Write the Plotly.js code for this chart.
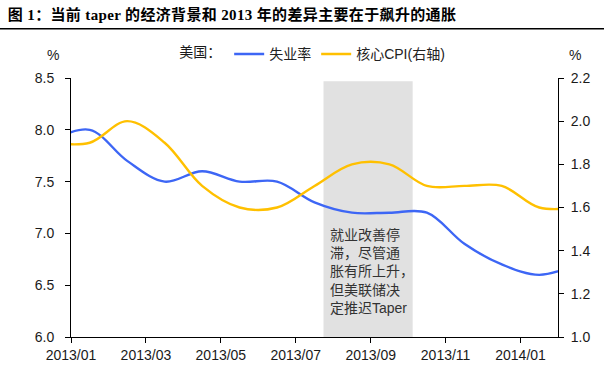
<!DOCTYPE html>
<html>
<head>
<meta charset="utf-8">
<script src="https://cdn.plot.ly/plotly-3.0.1.min.js"></script>
<style>
html,body{margin:0;padding:0;background:#fff;}
#chart{width:604px;height:367px;}
#chart .gtitle{letter-spacing:0.35px;}
</style>
</head>
<body>
<div id="chart"></div>
<script>
// Monthly data (points plotted mid-month; axis clipped to 2013/01 – 2014/02)
const months = ['2012/12','2013/01','2013/02','2013/03','2013/04','2013/05','2013/06','2013/07','2013/08','2013/09','2013/10','2013/11','2013/12','2014/01','2014/02'];
const unemployment = [7.9, 8.0, 7.7, 7.5, 7.6, 7.5, 7.5, 7.3, 7.2, 7.2, 7.2, 6.9, 6.7, 6.6, 6.7];
const coreCPI = [1.9, 1.9, 2.0, 1.9, 1.7, 1.6, 1.6, 1.7, 1.8, 1.8, 1.7, 1.7, 1.7, 1.6, 1.6];
const tickLabels = ['2013/01','2013/03','2013/05','2013/07','2013/09','2013/11','2014/01'];
const seriesNames = ['失业率', '核心CPI(右轴)'];

const xPos = months.map((m, i) => i - 0.5);          // mid-month position
const tickVals = tickLabels.map(l => months.indexOf(l) - 1); // month start

const latin = 'Liberation Sans, Arial, Noto Sans CJK SC, sans-serif';
const txt = '#1a1a1a';

const traces = [
  {x: xPos, y: unemployment, name: seriesNames[0], type: 'scatter', mode: 'lines',
   line: {color: '#3d66f5', width: 2.4, shape: 'spline', smoothing: 1}, yaxis: 'y'},
  {x: xPos, y: coreCPI, name: seriesNames[1], type: 'scatter', mode: 'lines',
   line: {color: '#ffc000', width: 2.4, shape: 'spline', smoothing: 1}, yaxis: 'y2'}
];

const layout = {
  width: 604, height: 367,
  margin: {l: 71, r: 46, t: 78, b: 30},
  paper_bgcolor: '#fff', plot_bgcolor: 'rgba(0,0,0,0)',
  font: {family: latin, size: 14, color: txt},
  showlegend: true,
  title: {
    text: '<b>图 1：当前 taper 的经济背景和 2013 年的差异主要在于飙升的通胀</b>',
    font: {family: 'Liberation Serif, Times New Roman, Noto Sans CJK SC, serif', size: 15, color: '#000'},
    x: 0.013, xanchor: 'left', y: 0.959, yanchor: 'middle'
  },
  legend: {
    orientation: 'h', x: 0.218, xanchor: 'left', y: 1.091, yanchor: 'middle',
    title: {text: '美国：', side: 'left', font: {size: 14, color: txt}},
    font: {size: 14, color: '#222'}, bgcolor: 'rgba(0,0,0,0)', itemwidth: 30,
    tracegroupgap: 0
  },
  xaxis: {
    range: [0, 13], tickmode: 'array', tickvals: tickVals, ticktext: tickLabels,
    showgrid: false, zeroline: false, showline: true, linecolor: '#000', linewidth: 1,
    ticks: 'outside', ticklen: 5, tickcolor: '#000', tickfont: {size: 14, color: txt}
  },
  yaxis: {
    range: [6.0, 8.5], dtick: 0.5, tick0: 6.0, tickformat: '.1f',
    showgrid: false, zeroline: false, showline: true, linecolor: '#000', linewidth: 1,
    ticks: 'outside', ticklen: 5, tickcolor: '#000', tickfont: {size: 14, color: txt},
    ticklabelstandoff: 8
  },
  yaxis2: {
    range: [1.0, 2.2], dtick: 0.2, tick0: 1.0, tickformat: '.1f',
    overlaying: 'y', side: 'right',
    showgrid: false, zeroline: false, showline: true, linecolor: '#000', linewidth: 1,
    ticks: 'outside', ticklen: 5, tickcolor: '#000', tickfont: {size: 14, color: txt},
    ticklabelstandoff: 4
  },
  shapes: [
    {type: 'rect', xref: 'x', yref: 'paper', x0: 6.74, x1: 9.12, y0: 0, y1: 0.987,
     fillcolor: '#e1e1e1', line: {width: 0}, layer: 'below'},
    {type: 'line', xref: 'paper', yref: 'paper', x0: -0.147, x1: 1.095, y0: 1.19, y1: 1.19,
     line: {color: '#000', width: 1.5}}
  ],
  annotations: [
    {text: '%', xref: 'paper', yref: 'paper', x: -0.037, y: 1.09, xanchor: 'center', yanchor: 'middle',
     showarrow: false, font: {size: 14, color: txt}},
    {text: '%', xref: 'paper', yref: 'paper', x: 1.034, y: 1.09, xanchor: 'center', yanchor: 'middle',
     showarrow: false, font: {size: 14, color: txt}},
    {text: '就业改善停<br>滞，尽管通<br>胀有所上升，<br>但美联储决<br>定推迟Taper', xref: 'paper', yref: 'paper',
     x: 0.527, y: 0.252, xanchor: 'left', yanchor: 'middle', align: 'left', showarrow: false,
     font: {size: 14, color: '#333'}}
  ]
};

Plotly.newPlot('chart', traces, layout, {displayModeBar: false, staticPlot: true});
</script>
</body>
</html>
